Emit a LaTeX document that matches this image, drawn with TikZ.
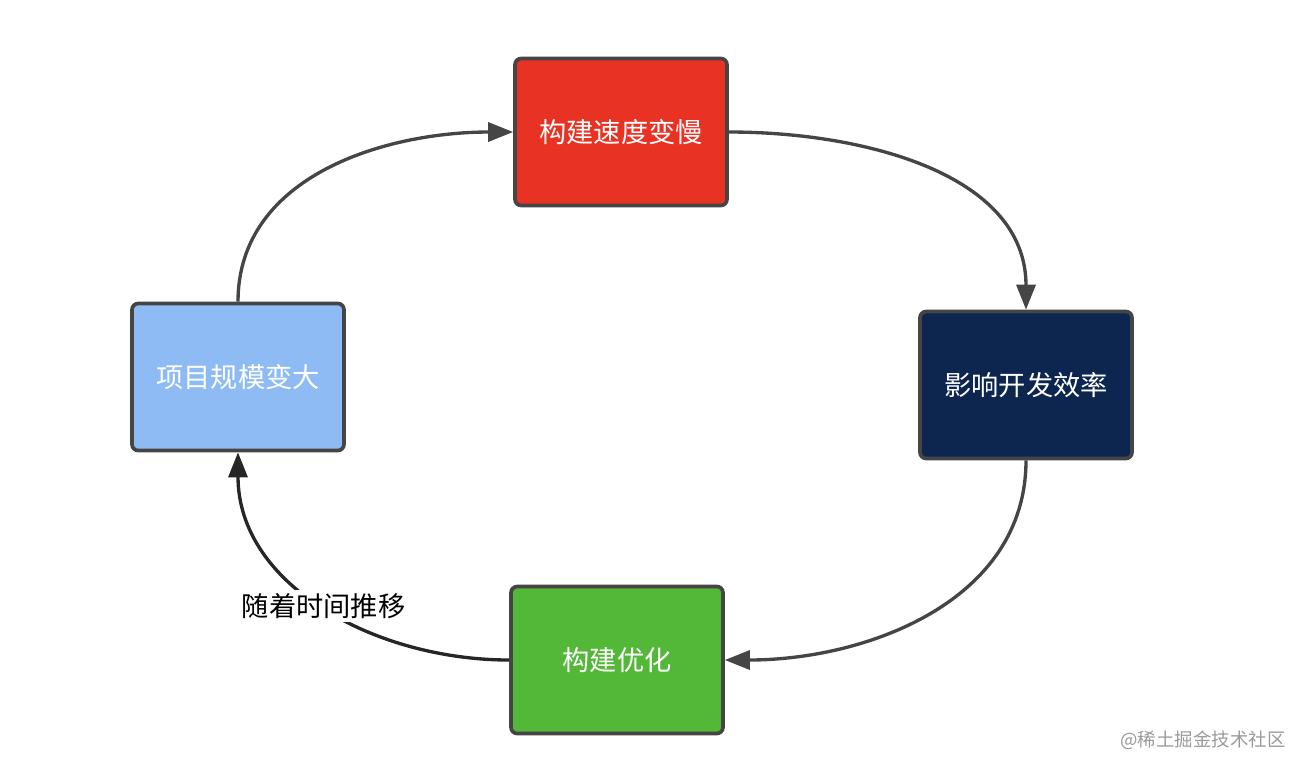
\documentclass[tikz,border=0pt]{standalone}
\usepackage{fontspec}
\setmainfont{Noto Sans CJK SC}
\usetikzlibrary{arrows.meta}

\definecolor{slowred}{HTML}{E83223}
\definecolor{effnavy}{HTML}{0C2650}
\definecolor{optgreen}{HTML}{53B737}
\definecolor{scaleblue}{HTML}{8FBBF5}
\definecolor{edge}{HTML}{454545}
\definecolor{mark}{HTML}{9A9A9A}

\begin{document}
\begin{tikzpicture}[
  x=0.02cm, y=-0.02cm,
  box/.style={rectangle, draw=edge, line width=2.1pt, rounded corners=3.5pt,
    minimum width=4.24cm, minimum height=2.94cm, text=white,
    font=\fontsize{15.5}{18}\selectfont},
  flow/.style={-{Triangle[length=0.5cm,width=0.38cm]}, draw=edge, line width=1.9pt},
  note/.style={fill=white, inner sep=2pt, font=\fontsize{15.5}{18}\selectfont}
]
  \useasboundingbox (0,0) rectangle (1304,769);

  \node[box, fill=slowred] (slow) at (621,132) {构建速度变慢};
  \node[box, fill=effnavy] (eff) at (1026,385) {影响开发效率};
  \node[box, fill=optgreen] (opt) at (617,660) {构建优化};
  \node[box, fill=scaleblue] (scale) at (238,377) {项目规模变大};

  \draw[flow] (scale.north) to[out=90, in=180] (slow.west);
  \draw[flow] (slow.east) to[out=0, in=90] (eff.north);
  \draw[flow] (eff.south) to[out=-90, in=0] (opt.east);
  \draw[flow, draw=black!85] (opt.west) to[out=180, in=-90]
    node[note, pos=0.5] {随着时间推移} (scale.south);

  \node[text=mark, font=\fontsize{10.5}{12}\selectfont] (wm) at (1203,740) {@稀土掘金技术社区};
\end{tikzpicture}
\end{document}
